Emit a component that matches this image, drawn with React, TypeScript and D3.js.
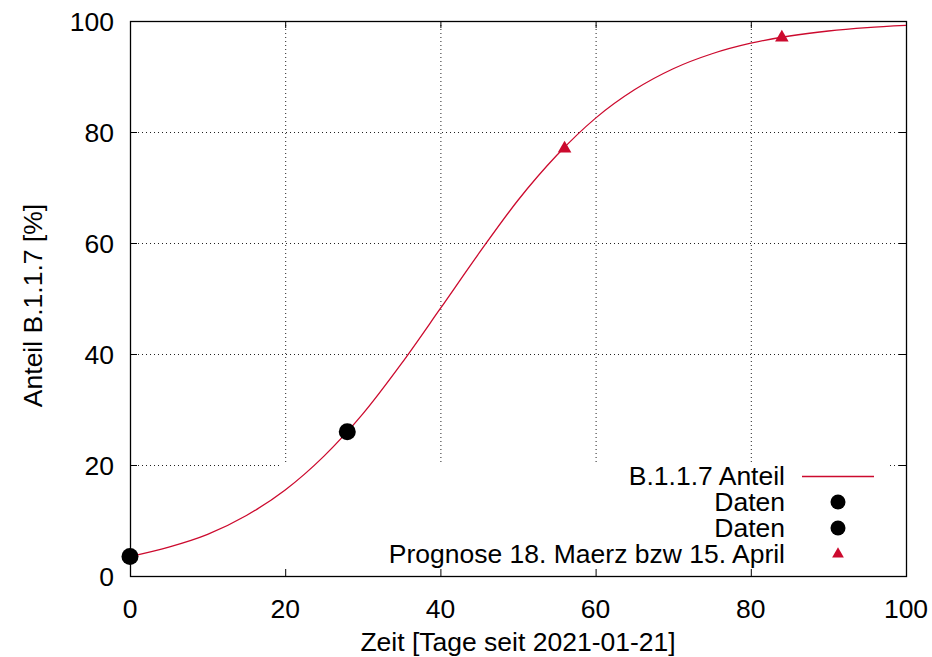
import React, { useEffect, useRef } from "react";
import * as d3 from "d3";

// curve values (day, percent)
const curveDays = [0, 5, 10, 15, 20, 25, 30, 35, 40, 45, 50, 55, 60, 65, 70, 75, 80, 85, 90, 95, 100];
const curveShare = [3.5, 5.2, 7.5, 10.9, 15.5, 21.6, 29.2, 38.3, 48.2, 58.2, 67.7, 75.8, 82.5, 87.6, 91.4, 94.1, 96.0, 97.3, 98.2, 98.8, 99.2];

const dataDays = [0, 28];
const dataShare = [3.5, 26];

const progDays = [56, 84];
const progShare = [77, 97];

const xTicks = [0, 20, 40, 60, 80, 100];
const yTicks = [0, 20, 40, 60, 80, 100];

const legendLabels = ["B.1.1.7 Anteil", "Daten", "Daten", "Prognose 18. Maerz bzw 15. April"];

const RED = "#cc0a2e";

export default function App() {
    const ref = useRef<SVGSVGElement>(null);

    useEffect(() => {
        const svg = d3.select(ref.current);
        svg.selectAll("*").remove();

        const left = 130, right = 906, top = 21, bottom = 576;
        const x = d3.scaleLinear().domain([0, 100]).range([left, right]);
        const y = d3.scaleLinear().domain([0, 100]).range([bottom, top]);
        const font = "Liberation Sans, Arial, sans-serif";

        svg.append("rect").attr("width", 932).attr("height", 657).attr("fill", "#fff");

        // grid
        const grid = svg.append("g").attr("stroke", "#222").attr("stroke-width", 1)
            .attr("stroke-dasharray", "1,3");
        xTicks.slice(1, -1).forEach(t => {
            grid.append("line").attr("x1", x(t) + 0.5).attr("x2", x(t) + 0.5)
                .attr("y1", top).attr("y2", bottom);
        });
        yTicks.slice(1, -1).forEach(t => {
            grid.append("line").attr("x1", left).attr("x2", right)
                .attr("y1", y(t) + 0.5).attr("y2", y(t) + 0.5);
        });

        // legend background covers the grid
        svg.append("rect").attr("x", 280).attr("y", 463).attr("width", 608).attr("height", bottom - 463)
            .attr("fill", "#fff");

        // ticks
        const ticks = svg.append("g").attr("stroke", "#000").attr("stroke-width", 1);
        xTicks.forEach(t => {
            ticks.append("line").attr("x1", x(t) + 0.5).attr("x2", x(t) + 0.5).attr("y1", bottom).attr("y2", bottom - 7);
            ticks.append("line").attr("x1", x(t) + 0.5).attr("x2", x(t) + 0.5).attr("y1", top).attr("y2", top + 7);
        });
        yTicks.forEach(t => {
            ticks.append("line").attr("x1", left).attr("x2", left + 7).attr("y1", y(t) + 0.5).attr("y2", y(t) + 0.5);
            ticks.append("line").attr("x1", right).attr("x2", right - 7).attr("y1", y(t) + 0.5).attr("y2", y(t) + 0.5);
        });

        // frame
        svg.append("rect").attr("x", left + 0.5).attr("y", top + 0.5)
            .attr("width", right - left).attr("height", bottom - top)
            .attr("fill", "none").attr("stroke", "#000").attr("stroke-width", 1.3);

        // tick labels
        const lbl = svg.append("g").attr("font-family", font).attr("font-size", 26.5).attr("fill", "#000");
        xTicks.forEach(t => {
            lbl.append("text").attr("x", x(t)).attr("y", 618).attr("text-anchor", "middle").text(t);
        });
        yTicks.forEach(t => {
            lbl.append("text").attr("x", 114).attr("y", y(t) + 10).attr("text-anchor", "end").text(t);
        });

        lbl.append("text").attr("x", (left + right) / 2).attr("y", 651).attr("text-anchor", "middle")
            .text("Zeit [Tage seit 2021-01-21]");
        lbl.append("text").attr("transform", `translate(42,${(top + bottom) / 2 + 7}) rotate(-90)`)
            .attr("text-anchor", "middle").text("Anteil B.1.1.7 [%]");

        // curve
        const line = d3.line<number>()
            .x((d, i) => x(curveDays[i]))
            .y(d => y(d))
            .curve(d3.curveMonotoneX);
        svg.append("path").datum(curveShare).attr("d", line).attr("fill", "none")
            .attr("stroke", RED).attr("stroke-width", 1.3);

        // data points
        dataShare.forEach((v, i) => {
            svg.append("circle").attr("cx", x(dataDays[i])).attr("cy", y(v)).attr("r", 8.5).attr("fill", "#000");
        });

        const tri = d3.symbol().type(d3.symbolTriangle);
        progShare.forEach((v, i) => {
            svg.append("path").attr("d", tri.size(80)()).attr("fill", RED)
                .attr("transform", `translate(${x(progDays[i])},${y(v)})`);
        });

        // legend
        const rowY = [476, 502, 528, 554];
        legendLabels.forEach((l, i) => {
            lbl.append("text").attr("x", 785).attr("y", rowY[i] + 9).attr("text-anchor", "end").text(l);
        });
        svg.append("line").attr("x1", 802).attr("x2", 874).attr("y1", rowY[0] + 0.5).attr("y2", rowY[0] + 0.5)
            .attr("stroke", RED).attr("stroke-width", 1.3);
        svg.append("circle").attr("cx", 838).attr("cy", rowY[1]).attr("r", 7.5).attr("fill", "#000");
        svg.append("circle").attr("cx", 838).attr("cy", rowY[2]).attr("r", 7.5).attr("fill", "#000");
        svg.append("path").attr("d", tri.size(60)()).attr("fill", RED)
            .attr("transform", `translate(838,${rowY[3]})`);
    }, []);

    return (
        <svg ref={ref} width={932} height={657} style={{ display: "block", position: "absolute", left: 0, top: 0 }} />
    );
}
